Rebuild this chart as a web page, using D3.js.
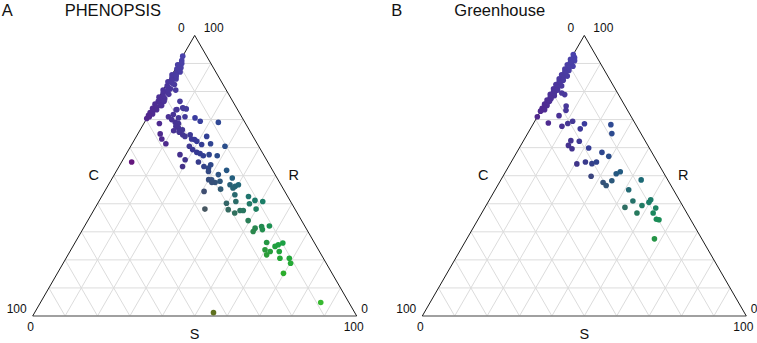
<!DOCTYPE html>
<html>
<head>
<meta charset="utf-8">
<script src="https://cdn.jsdelivr.net/npm/d3@7"></script>
<style>
  body { margin: 0; background: #fff; }
  svg text { font-family: "Liberation Sans", Arial, sans-serif; fill: #111; }
</style>
</head>
<body>
<div id="vis"></div>
<script>
// points are [S, R] in percent, C = 100 - S - R
const phenopsisPoints = [
  [0,92.6],[0.5,91],[1,90],[0,89.5],[1.5,88.5],[0.5,88],[2,87],[1,86.5],[0,86],[1.5,85.5],
  [0.5,85],[2,84.5],[1,84],[0,83.5],[1.5,83],[2.5,82.5],[0.5,82],[1,81.5],[2,81],[0,80.5],
  [1.5,80],[0.5,79.5],[2.5,79],[1,78.5],[0,78],[2,77.5],[1,77],[0.5,76.5],[1.5,76],[0,75.5],
  [2,75],[1,74.5],[0,74],[1.5,73.5],[0.5,73],[0,72.5],[1,72],[0,71.5],[0.5,71],[0,70.4],
  [1.4,85.7],[3.9,80.5],[1.6,80.5],[2.3,76.5],[2.3,75],[7.2,76.5],[9.2,74.2],[7.7,73.6],[11.5,71],[7.5,71.8],
  [9.7,70.6],[14.8,70.6],[17,69.4],[22.8,69],[4.8,68.6],[6.9,64.9],[8.3,63.1],[10.4,61.4],[11.5,67],[12.5,65.5],
  [10.5,66],[14,64.6],[16.3,64.6],[17.5,63.1],[19.5,62.3],[21.6,61.1],[21.7,64],[24.2,61.4],[29.1,60.5],[18.1,60.5],
  [19.7,59.3],[21.5,58.3],[22.7,57.9],[24.1,57.1],[25.7,57.5],[28.4,57.1],[16.7,57.5],[19.2,55.7],[19.6,53.3],[23.7,54.9],
  [26.2,53.3],[27.9,52.7],[28,53.9],[28.5,51.5],[32.1,50.4],[31,48.5],[32.5,47.6],[33.8,48],[33.9,51.9],[37,49.2],
  [37.5,46.8],[39.4,46.2],[40.1,46.8],[30.7,44.4],[35.4,45.2],[40.8,43.2],[42.3,40.8],[39.7,40.2],[41.4,37.9],[34.1,38.1],
  [45.3,42.6],[48,41.2],[50.6,40.8],[46.9,40],[45.2,37.6],[46.2,37.6],[49.9,38.1],[49.5,34],[53,31.3],[54.7,31.9],
  [57,32.1],[53,30.1],[55.5,30.8],[59.1,26.2],[62.4,24.8],[63.1,25.4],[64.2,26],[59.9,23.6],[61.3,21.8],[61.8,23],
  [64.6,23],[66,20.6],[68.9,20.6],[70.2,18.8],[69.8,15.2],[86.5,4.8],[55.2,1.2],[3.1,54.9],
  [6.4,71],[7.9,70],[9.5,69],[10.7,68.6],[10.4,67.6],[12.3,65.8],[13,66.4],[15,64],[18.5,62.9],[7.5,73.5],
  [9.5,74],[10.5,73.8],[30,48.6],[31.5,47.6],[39,45.6],[44,36.7]
]

const greenhousePoints = [
  [0,93.2],[0.5,92.5],[1,92],[0,91.5],[1.5,91],[0.5,90.5],[1,90],[0,89.5],[2,89],[1,88.5],
  [0,88],[1.5,87.5],[0.5,87],[1,86.5],[0,86],[2,85.5],[1,85],[0,84.5],[1.5,84],[0.5,83.5],
  [1,83],[0,82.5],[2,82],[1,81.5],[0,81],[1.5,80.5],[0.5,80],[1,79.5],[0,79],[1.5,78.5],
  [0.5,78],[1,77.5],[0,77],[1,76.5],[0.5,76],[0,75.5],[1,75],[0.5,74.5],[0,74],[1,73.5],[0,73],
  [3.3,79.5],[4.5,78.9],[7,74.8],[7.7,73.3],[6.5,71.4],[4.5,68.8],[9.3,67.6],[10.6,68.6],[11.7,69.4],[15.4,66.7],
  [15.8,68.5],[24.1,68.2],[26,65],[14.6,62.5],[17.3,62.3],[14.7,60.8],[16.4,59.6],[21.4,59.9],[26.3,58.3],[29.1,56.9],
  [22.9,54.9],[25.2,54.3],[26.3,54.9],[20.6,54.2],[27.2,49.8],[34.5,50.7],[35.4,51.4],[32,47.6],[33.5,46.5],[34.4,48.2],
  [43.3,48.5],[41.2,45],[44.5,41],[48.1,39.4],[49.7,40.5],[49.8,41.4],[43.2,38.7],[47.9,36.7],[52.9,36.7],[52.8,38.5],
  [55,34.5],[55.9,34.3],[57.9,27.5],[0,71]
]

const panelLetters = ['A', 'B']
const panelTitles = ['PHENOPSIS', 'Greenhouse']
const axisNames = ['C', 'R', 'S']

const width = 757
const height = 343
const side = 324
const triH = side * Math.sqrt(3) / 2
const baseY = 316
const leftX = [32.7, 422.3]

const svg = d3.select('#vis')
    .append('svg')
    .attr('width', width)
    .attr('height', height)

//saturation used for each hue
const hueSat = d3.scaleLinear()
    .domain([60, 111, 138, 187, 230, 246, 284, 330])
    .range([0.58, 0.55, 0.7, 0.62, 0.5, 0.44, 0.69, 0.69])
    .clamp(true)

// colour each point as a mix of C (red), S (green) and R (blue)
function csrColor(s, r) {
    const c = 100 - s - r
    const hsl = d3.hsl(d3.rgb(c * 2.55, s * 2.55, r * 2.55))
    hsl.s = Math.min(hsl.s, hueSat(hsl.h))
    return hsl.formatHex()
}

const panels = [phenopsisPoints, greenhousePoints].map((pts, i) => ({
    points: pts, letter: panelLetters[i], title: panelTitles[i], x0: leftX[i]
}))

panels.forEach(p => {
    const g = svg.append('g').attr('transform', `translate(${p.x0},0)`)

    // S runs along the base, R goes up to the apex
    const sx = d3.scaleLinear().domain([0, 100]).range([0, side])
    const ry = d3.scaleLinear().domain([0, 100]).range([baseY, baseY - triH])
    const px = (s, r) => sx(s) + sx(r) / 2

    const apex = [px(0, 100), ry(100)]
    const bl = [px(0, 0), ry(0)]
    const br = [px(100, 0), ry(0)]

    // grid
    const steps = d3.range(10, 100, 10)
    const grid = g.append('g')
        .attr('stroke', '#dcdcdc')
        .attr('stroke-width', 1)
    steps.forEach(v => {
        // constant R
        grid.append('line')
            .attr('x1', px(0, v)).attr('y1', ry(v))
            .attr('x2', px(100 - v, v)).attr('y2', ry(v))
        // constant S
        grid.append('line')
            .attr('x1', px(v, 0)).attr('y1', ry(0))
            .attr('x2', px(v, 100 - v)).attr('y2', ry(100 - v))
        // constant C
        grid.append('line')
            .attr('x1', px(100 - v, 0)).attr('y1', ry(0))
            .attr('x2', px(0, 100 - v)).attr('y2', ry(100 - v))
    })

    // edges
    g.append('line')
        .attr('x1', bl[0]).attr('y1', bl[1]).attr('x2', br[0]).attr('y2', br[1])
        .attr('stroke', '#808080').attr('stroke-width', 1.6)
    g.append('path')
        .attr('d', d3.line()([bl, apex, br]))
        .attr('fill', 'none')
        .attr('stroke', '#1a1a1a')
        .attr('stroke-width', 1)

    // points
    g.append('g')
        .selectAll('circle')
        .data(p.points)
        .enter()
        .append('circle')
        .attr('cx', d => px(d[0], d[1]))
        .attr('cy', d => ry(d[1]))
        .attr('r', 2.8)
        .attr('fill', d => csrColor(d[0], d[1]))

    // labels
    const txt = (x, y, t, size, anchor) => g.append('text')
        .attr('x', x).attr('y', y)
        .attr('font-size', size)
        .attr('text-anchor', anchor || 'middle')
        .text(t)

    txt(-31, 16, p.letter, 16.5, 'start')
    txt(apex[0] - 130, 16, p.title, 16.5, 'start')

    txt(apex[0] - 10, 32, '0', 12, 'end')
    txt(apex[0] + 9, 32, '100', 12, 'start')
    txt(bl[0] - 6, 313, '100', 12, 'end')
    txt(br[0] + 4.5, 313, '0', 12, 'start')
    txt(bl[0] - 2, 331, '0', 12)
    txt(br[0] - 3, 331, '100', 12)

    const midL = [(bl[0] + apex[0]) / 2, (bl[1] + apex[1]) / 2]
    const midR = [(br[0] + apex[0]) / 2, (br[1] + apex[1]) / 2]
    txt(midL[0] - 20, 180, axisNames[0], 14.5)
    txt(midR[0] + 18, 180, axisNames[1], 14.5)
    txt(apex[0], 339, axisNames[2], 14.5)
})
</script>
</body>
</html>
